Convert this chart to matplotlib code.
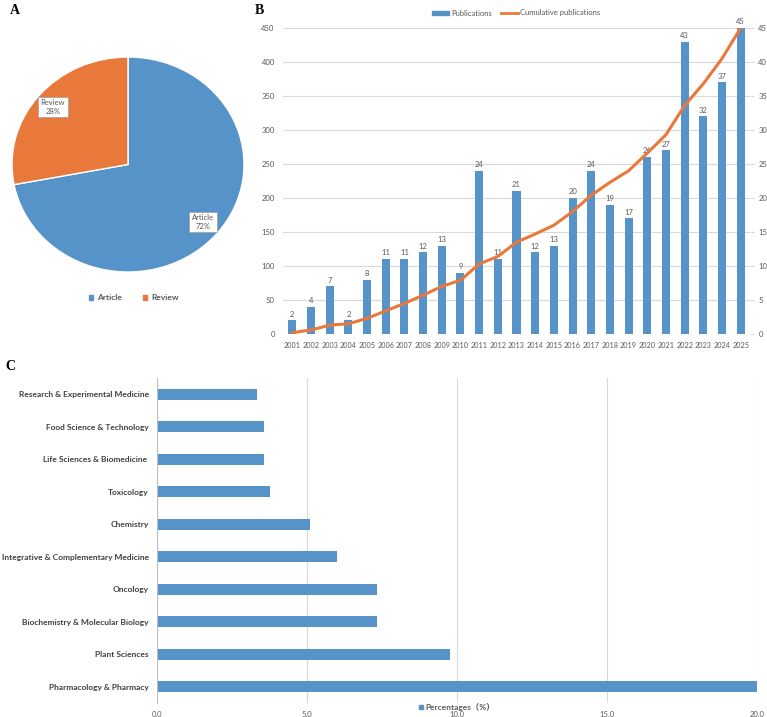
import matplotlib.pyplot as plt
from matplotlib.patches import Patch
from matplotlib.lines import Line2D
import numpy as np

plt.rcParams['font.family'] = ['Lato', 'Noto Sans CJK SC', 'DejaVu Sans']

# Data
doc_types = ['Article', 'Review']
doc_share = [72, 28]

years = [str(y) for y in range(2001, 2026)]
pubs = [2, 4, 7, 2, 8, 11, 11, 12, 13, 9, 24, 11, 21, 12, 13, 20, 24, 19, 17, 26, 27, 43, 32, 37, 45]
cum_pubs = np.cumsum(pubs)

categories = ['Research & Experimental Medicine', 'Food Science & Technology',
              'Life Sciences & Biomedicine ', 'Toxicology', 'Chemistry',
              'Integrative & Complementary Medicine', 'Oncology',
              'Biochemistry & Molecular Biology', 'Plant Sciences', 'Pharmacology & Pharmacy']
percentages = [3.33, 3.56, 3.56, 3.78, 5.11, 6.0, 7.33, 7.33, 9.78, 20.0]

BLUE = '#5593c9'
ORANGE = '#e8793a'
GRID = '#d9d9d9'
TXT = '#595959'

W, H = 767, 717
fig = plt.figure(figsize=(W / 100, H / 100), dpi=100)


def box(l, t, r, b):
    return [l / W, 1 - b / H, (r - l) / W, (b - t) / H]


# ---- Panel A: pie
axA = fig.add_axes(box(12, 57, 244, 272))
wedges, _ = axA.pie(doc_share, colors=[BLUE, ORANGE], startangle=90, counterclock=False,
                    wedgeprops=dict(edgecolor='white', linewidth=1))
axA.set_aspect('auto')
axA.set_xlim(-1, 1)
axA.set_ylim(-1, 1)
for w, name, v in zip(wedges, doc_types, doc_share):
    ang = np.deg2rad((w.theta1 + w.theta2) / 2)
    axA.text(0.84 * np.cos(ang), 0.84 * np.sin(ang), f'{name}\n{v}%', ha='center', va='center',
             fontsize=5.5, color=TXT, linespacing=1.2,
             bbox=dict(boxstyle='square,pad=0.35', fc='white', ec='#a6a6a6', lw=0.6))
fig.legend(handles=[Patch(color=BLUE, label='Article'), Patch(color=ORANGE, label='Review')],
           loc='center', bbox_to_anchor=(134 / W, 1 - 298 / H), ncol=2, frameon=False,
           handlelength=0.5, handleheight=0.5, columnspacing=2.5, handletextpad=0.5,
           prop=dict(weight='bold', size=6), labelcolor=TXT)
fig.text(10 / W, 1 - 10 / H, 'A', fontsize=10, fontweight='bold', family='Liberation Serif',
         va='center', ha='left')

# ---- Panel B: bars (right axis) + cumulative line (left axis)
axB = fig.add_axes(box(283, 28, 750, 334))
x = np.arange(len(years))
bars = axB.bar(x, pubs, width=0.43, color=BLUE, zorder=2)
axB.bar_label(bars, padding=2, fontsize=5.5, color=TXT)
axB.set_ylim(0, 45)
axB.set_yticks(range(0, 46, 5))
axB.set_xlim(-0.5, len(years) - 0.5)
axB.set_xticks(x)
axB.set_xticklabels(years)
axB.grid(axis='y', color=GRID, lw=0.8, zorder=0)
axB.set_axisbelow(True)
axB.tick_params(axis='x', length=0, pad=6, labelsize=5.2, labelcolor=TXT)
for s in axB.spines.values():
    s.set_visible(False)

axL = axB.twinx()
axL.plot(x, cum_pubs, color=ORANGE, lw=2.2, zorder=3)
axL.set_ylim(0, 450)
axL.set_yticks(range(0, 451, 50))
axL.yaxis.tick_left()
axL.tick_params(axis='y', length=0, pad=6, labelsize=5.5, labelcolor=TXT)
for s in axL.spines.values():
    s.set_visible(False)

# twinx moved the bar axis ticks to the left, put them back on the right
axB.yaxis.tick_right()
axB.tick_params(axis='y', length=3, color=GRID, pad=3, labelsize=5.5, labelcolor=TXT)

fig.legend(handles=[Patch(color=BLUE, label='Publications'),
                    Line2D([], [], color=ORANGE, lw=2, label='Cumulative publications')],
           loc='center', bbox_to_anchor=(516 / W, 1 - 13 / H), ncol=2, frameon=False,
           fontsize=5.5, handlelength=2.2, handleheight=0.4, columnspacing=1.2, handletextpad=0.3,
           labelcolor=TXT)
fig.text(255 / W, 1 - 10 / H, 'B', fontsize=10, fontweight='bold', family='Liberation Serif',
         va='center', ha='left')

# ---- Panel C: horizontal bars
axC = fig.add_axes(box(157, 378, 757, 703))
yc = np.arange(len(categories))
axC.barh(yc, percentages, height=0.35, color=BLUE, zorder=2)
axC.set_yticks(yc)
axC.set_yticklabels(categories)
axC.set_ylim(len(categories) - 0.5, -0.5)
axC.set_xlim(0, 20)
axC.set_xticks([0, 5, 10, 15, 20])
axC.set_xticklabels(['0.0', '5.0', '10.0', '15.0', '20.0'])
axC.grid(axis='x', color=GRID, lw=0.8, zorder=0)
axC.set_axisbelow(True)
axC.tick_params(axis='x', length=0, pad=6, labelsize=5.5, labelcolor=TXT)
axC.tick_params(axis='y', length=0, pad=6, labelsize=6, labelcolor='#404040')
for lab in axC.get_yticklabels():
    lab.set_fontweight('bold')
for k, s in axC.spines.items():
    s.set_visible(k == 'left')
axC.spines['left'].set_color('#bfbfbf')

fig.legend(handles=[Patch(color=BLUE, label='Percentages（%）')],
           loc='center', bbox_to_anchor=(457 / W, 1 - 707 / H), frameon=False,
           handlelength=0.5, handleheight=0.5, handletextpad=0.3,
           prop=dict(weight='bold', size=6), labelcolor=TXT)
fig.text(5 / W, 1 - 366 / H, 'C', fontsize=10, fontweight='bold', family='Liberation Serif',
         va='center', ha='left')

fig.savefig('out.png', dpi=100)
